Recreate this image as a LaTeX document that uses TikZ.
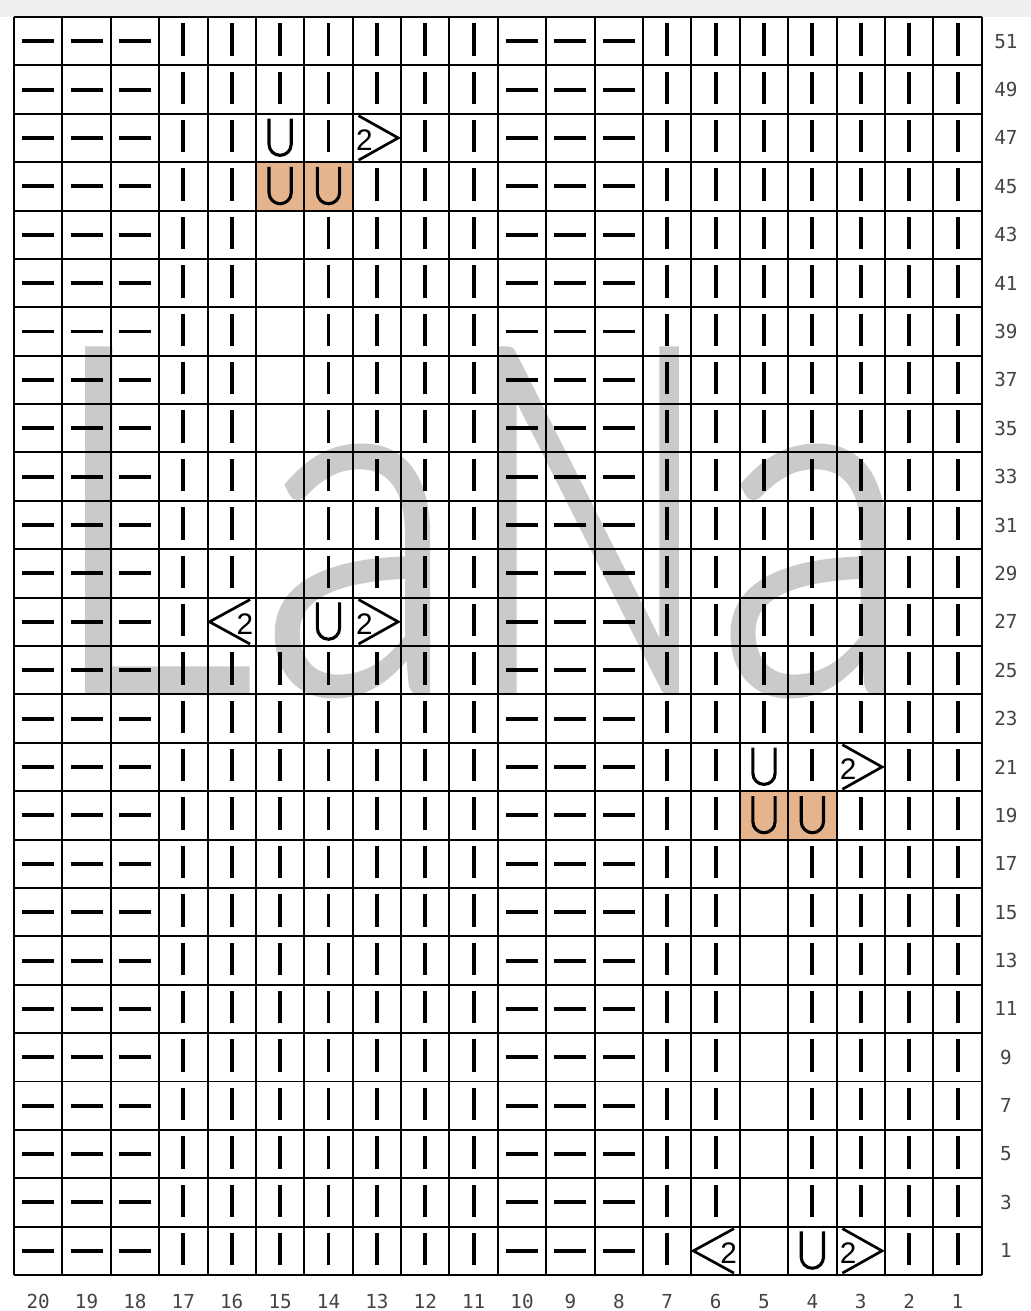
\documentclass[tikz,border=0pt]{standalone}
\usepackage{fontspec}
\usepackage{graphicx}
\setmainfont{Liberation Sans}
\newfontfamily\lblfont{DejaVu Sans Mono}
\IfFontExistsTF{Lato Light}{\newfontfamily\wmfont{Lato Light}[FakeBold=1.5]}{%
  \IfFontExistsTF{Fira Sans Light}{\newfontfamily\wmfont{Fira Sans Light}[FakeBold=1.5]}{%
    \IfFontExistsTF{DejaVu Sans ExtraLight}{\newfontfamily\wmfont{DejaVu Sans ExtraLight}[FakeBold=1.5]}{%
      \newfontfamily\wmfont{Fira Sans}}}}
\usepackage{xcolor}
\definecolor{cellorange}{HTML}{E6B48C}
\definecolor{markgray}{HTML}{CACACA}
\definecolor{lblgray}{HTML}{444444}
\definecolor{bandgray}{HTML}{EFEFEF}

\begin{document}
\begin{tikzpicture}[
  x=6mm, y=6mm,
  gridline/.style={line width=0.7pt, black},
  knit/.style={line width=1.4pt, black},
  purl/.style={line width=1.4pt, black},
  yo/.style={line width=1.1pt, black},
  dec/.style={line width=0.95pt, black},
  two/.style={inner sep=0pt, font=\fontsize{10.5}{11}\selectfont},
  lbl/.style={inner sep=0pt, text=lblgray, font=\lblfont\fontsize{6.8}{8}\selectfont},
  wm/.style={inner sep=0pt, anchor=base west, text=markgray, xscale=0.85, font=\wmfont\fontsize{170}{170}\selectfont},
]
  \useasboundingbox (-0.289,-0.743) rectangle (21.01,26.351);
  % Background
  \fill[white] (-0.289,-0.743) rectangle (21.01,26.351);
  \fill[bandgray] (-0.289,26) rectangle (21.01,26.351);

  % Highlighted cells
  \foreach \c/\r in {15/45,14/45,5/19,4/19}
    \fill[cellorange] (20-\c,{(\r-1)/2}) rectangle ++(1,1);

  % Watermark
  \node[wm] (mark) at (0.64,12.07) {L\kern3.3pt a\kern2.9pt\scalebox{0.79}[1]{N}\kern2.5pt a};

  % Grid
  \draw[gridline, step=1] (0,0) grid (20,26);

  % Knit and purl stitches
  \foreach \r in {1,3,...,51} {
    \foreach \c in {1,...,20} {
      \pgfmathsetmacro\xc{20.5-\c}
      \pgfmathsetmacro\yc{\r/2}
      \pgfmathtruncatemacro\ispurl{(\c>=8 && \c<=10) || \c>=18}
      \pgfmathtruncatemacro\nostitch{(\c==15 && \r>=27 && \r<=47) || (\c==5 && \r<=21)
        || (\c==14 && (\r==45 || \r==27)) || (\c==13 && (\r==47 || \r==27))
        || (\c==16 && \r==27) || (\c==4 && (\r==19 || \r==1))
        || (\c==3 && (\r==21 || \r==1)) || (\c==6 && \r==1)}
      \ifnum\ispurl=1
        \draw[purl] (\xc-0.33,\yc) -- (\xc+0.33,\yc);
      \else
        \ifnum\nostitch=0
          \draw[knit] (\xc,\yc-0.3) -- (\xc,\yc+0.37);
        \fi
      \fi
    }
  }

  % Yarn overs
  \foreach \c/\r in {15/47,15/45,14/45,14/27,5/21,5/19,4/19,4/1} {
    \pgfmathsetmacro\xc{20.5-\c}
    \pgfmathsetmacro\yc{\r/2}
    \draw[yo] (\xc-0.23,\yc+0.4) -- (\xc-0.23,\yc-0.13)
      arc[start angle=180, end angle=360, radius=0.23] -- (\xc+0.23,\yc+0.4);
  }

  % Decreases leaning right
  \foreach \c/\r in {13/47,13/27,3/21,3/1} {
    \pgfmathsetmacro\xc{20.5-\c}
    \pgfmathsetmacro\yc{\r/2}
    \draw[dec] (\xc-0.38,\yc+0.46) -- (\xc+0.44,\yc) -- (\xc-0.38,\yc-0.46);
    \node[two] (right\c-\r) at (\xc-0.26,\yc-0.04) {2};
  }

  % Decreases leaning left
  \foreach \c/\r in {16/27,6/1} {
    \pgfmathsetmacro\xc{20.5-\c}
    \pgfmathsetmacro\yc{\r/2}
    \draw[dec] (\xc+0.38,\yc+0.46) -- (\xc-0.46,\yc) -- (\xc+0.38,\yc-0.46);
    \node[two] (left\c-\r) at (\xc+0.27,\yc-0.04) {2};
  }

  % Row and column numbers
  \foreach \r in {1,3,...,51}
    \node[lbl] (row\r) at (20.5,\r/2) {\r};
  \foreach \c in {1,...,20}
    \node[lbl] (col\c) at (20.5-\c,-0.54) {\c};
\end{tikzpicture}
\end{document}
